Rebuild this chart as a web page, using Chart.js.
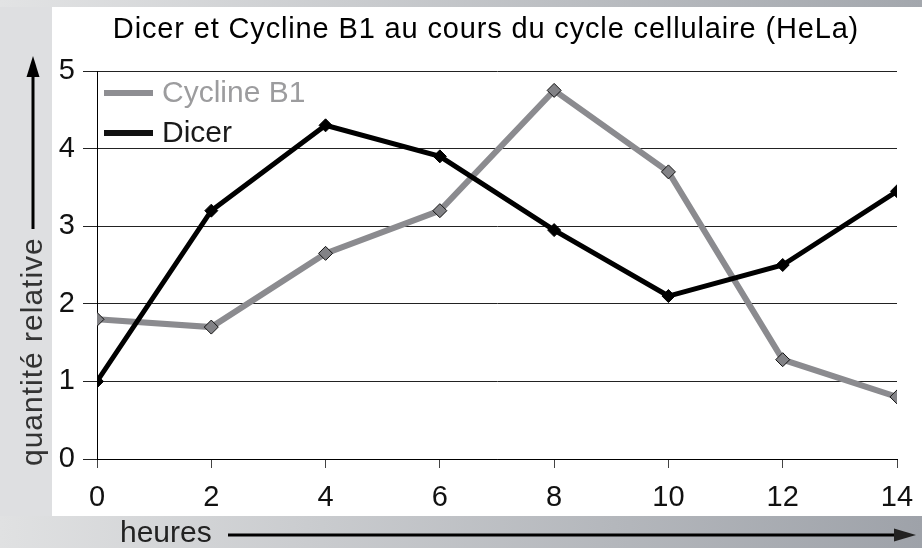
<!DOCTYPE html>
<html>
<head>
<meta charset="utf-8">
<style>
  html, body { margin: 0; padding: 0; background: #dedfe1; }
  #wrap { width: 922px; height: 548px; position: relative; }
  canvas { display: block; }
</style>
<script src="https://cdn.jsdelivr.net/npm/chart.js@4.4.1/dist/chart.umd.min.js"></script>
</head>
<body>
<div id="wrap"><canvas id="c" width="922" height="548"></canvas></div>
<script>
const hours = [0, 2, 4, 6, 8, 10, 12, 14];
const cyclineB1 = [1.8, 1.7, 2.65, 3.2, 4.75, 3.7, 1.28, 0.8];
const dicer = [1.0, 3.2, 4.3, 3.9, 2.95, 2.1, 2.5, 3.45];
const titleText = 'Dicer et Cycline B1 au cours du cycle cellulaire (HeLa)';
const yTitle = 'quantité relative';
const xTitle = 'heures';
const seriesNames = ['Cycline B1', 'Dicer'];

const FONT = 'Arial, "Liberation Sans", Helvetica, sans-serif';

const decor = {
  id: 'decor',
  beforeDraw(chart) {
    const ctx = chart.ctx;
    const W = chart.width, H = chart.height;
    ctx.save();
    ctx.fillStyle = '#dedfe1';
    ctx.fillRect(0, 0, W, H);
    let g = ctx.createLinearGradient(0, 0, W, 0);
    g.addColorStop(0, '#e2e3e4');
    g.addColorStop(1, '#a3a7ad');
    ctx.fillStyle = g;
    ctx.fillRect(0, 0, W, 7);
    g = ctx.createLinearGradient(0, 0, W, 0);
    g.addColorStop(0, '#e0e1e2');
    g.addColorStop(1, '#9ea2a9');
    ctx.fillStyle = g;
    ctx.fillRect(0, 516, W, H - 516);
    ctx.fillStyle = '#ffffff';
    ctx.fillRect(52, 7, W - 52, 509);
    ctx.restore();
  },
  afterDraw(chart) {
    const ctx = chart.ctx;
    ctx.save();
    ctx.fillStyle = '#000';
    ctx.font = '29px ' + FONT;
    ctx.textAlign = 'center';
    ctx.textBaseline = 'middle';
    ctx.letterSpacing = '0.85px';
    ctx.fillText(titleText, 486, 30);
    ctx.letterSpacing = '0px';

    const ly = [93, 133];
    const lc = ['#8e8e92', '#111111'];
    const tc = ['#9c9c9e', '#1a1a1a'];
    for (let i = 0; i < 2; i++) {
      ctx.fillStyle = lc[i];
      ctx.fillRect(104, ly[i] - 3, 49, 6);
      ctx.fillStyle = tc[i];
      ctx.textAlign = 'left';
      ctx.font = '30px ' + FONT;
      ctx.fillText(seriesNames[i], 162, ly[i] + 1);
    }

    ctx.fillStyle = '#333';
    ctx.font = '30px ' + FONT;
    ctx.save();
    ctx.translate(34, 466);
    ctx.rotate(-Math.PI / 2);
    ctx.textAlign = 'left';
    ctx.textBaseline = 'middle';
    ctx.letterSpacing = '1px';
    ctx.fillText(yTitle, 0, 0);
    ctx.letterSpacing = '0px';
    ctx.restore();
    ctx.strokeStyle = '#000';
    ctx.lineWidth = 3;
    ctx.beginPath();
    ctx.moveTo(33, 229);
    ctx.lineTo(33, 70);
    ctx.stroke();
    ctx.fillStyle = '#000';
    ctx.beginPath();
    ctx.moveTo(33, 56);
    ctx.lineTo(26.5, 77);
    ctx.lineTo(39.5, 77);
    ctx.closePath();
    ctx.fill();

    ctx.fillStyle = '#222';
    ctx.textAlign = 'left';
    ctx.textBaseline = 'middle';
    ctx.font = '30px ' + FONT;
    ctx.fillText(xTitle, 120, 534);
    ctx.beginPath();
    ctx.moveTo(228, 535);
    ctx.lineTo(900, 535);
    ctx.stroke();
    ctx.beginPath();
    ctx.moveTo(916, 535);
    ctx.lineTo(894, 528.5);
    ctx.lineTo(894, 541.5);
    ctx.closePath();
    ctx.fill();
    ctx.restore();
  }
};

new Chart(document.getElementById('c'), {
  type: 'line',
  data: {
    datasets: [
      {
        label: seriesNames[0],
        data: hours.map((h, i) => ({ x: h, y: cyclineB1[i] })),
        borderColor: '#8b8b8f',
        borderWidth: 6,
        pointStyle: 'rectRot',
        pointRadius: 7,
        pointBackgroundColor: '#828286',
        pointBorderColor: '#111',
        pointBorderWidth: 1,
        tension: 0,
        order: 2
      },
      {
        label: seriesNames[1],
        data: hours.map((h, i) => ({ x: h, y: dicer[i] })),
        borderColor: '#000000',
        borderWidth: 5,
        pointStyle: 'rectRot',
        pointRadius: 6.5,
        pointBackgroundColor: '#000',
        pointBorderColor: '#000',
        pointBorderWidth: 1,
        tension: 0,
        order: 1
      }
    ]
  },
  options: {
    responsive: false,
    animation: false,
    devicePixelRatio: 1,
    layout: { autoPadding: false, padding: { top: 71, right: 25, left: 0, bottom: 0 } },
    plugins: {
      legend: { display: false },
      title: { display: false },
      tooltip: { enabled: false }
    },
    scales: {
      x: {
        type: 'linear',
        min: 0, max: 14,
        afterFit(s) { s.height = 89; s.paddingRight = 0; s.paddingLeft = 0; },
        ticks: {
          stepSize: 2,
          color: '#111',
          font: { size: 29, family: FONT },
          padding: 13,
          maxRotation: 0
        },
        grid: {
          drawOnChartArea: false,
          drawTicks: true,
          tickLength: 9,
          color: '#444',
          lineWidth: 1
        },
        border: { display: true, color: '#000', width: 1 }
      },
      y: {
        min: 0, max: 5,
        afterFit(s) { s.width = 97; },
        ticks: {
          stepSize: 1,
          color: '#111',
          font: { size: 29, family: FONT },
          padding: 8
        },
        grid: {
          drawOnChartArea: true,
          drawTicks: true,
          tickLength: 14,
          color: '#222',
          lineWidth: 1
        },
        border: { display: true, color: '#000', width: 1 }
      }
    }
  },
  plugins: [decor]
});
</script>
</body>
</html>
